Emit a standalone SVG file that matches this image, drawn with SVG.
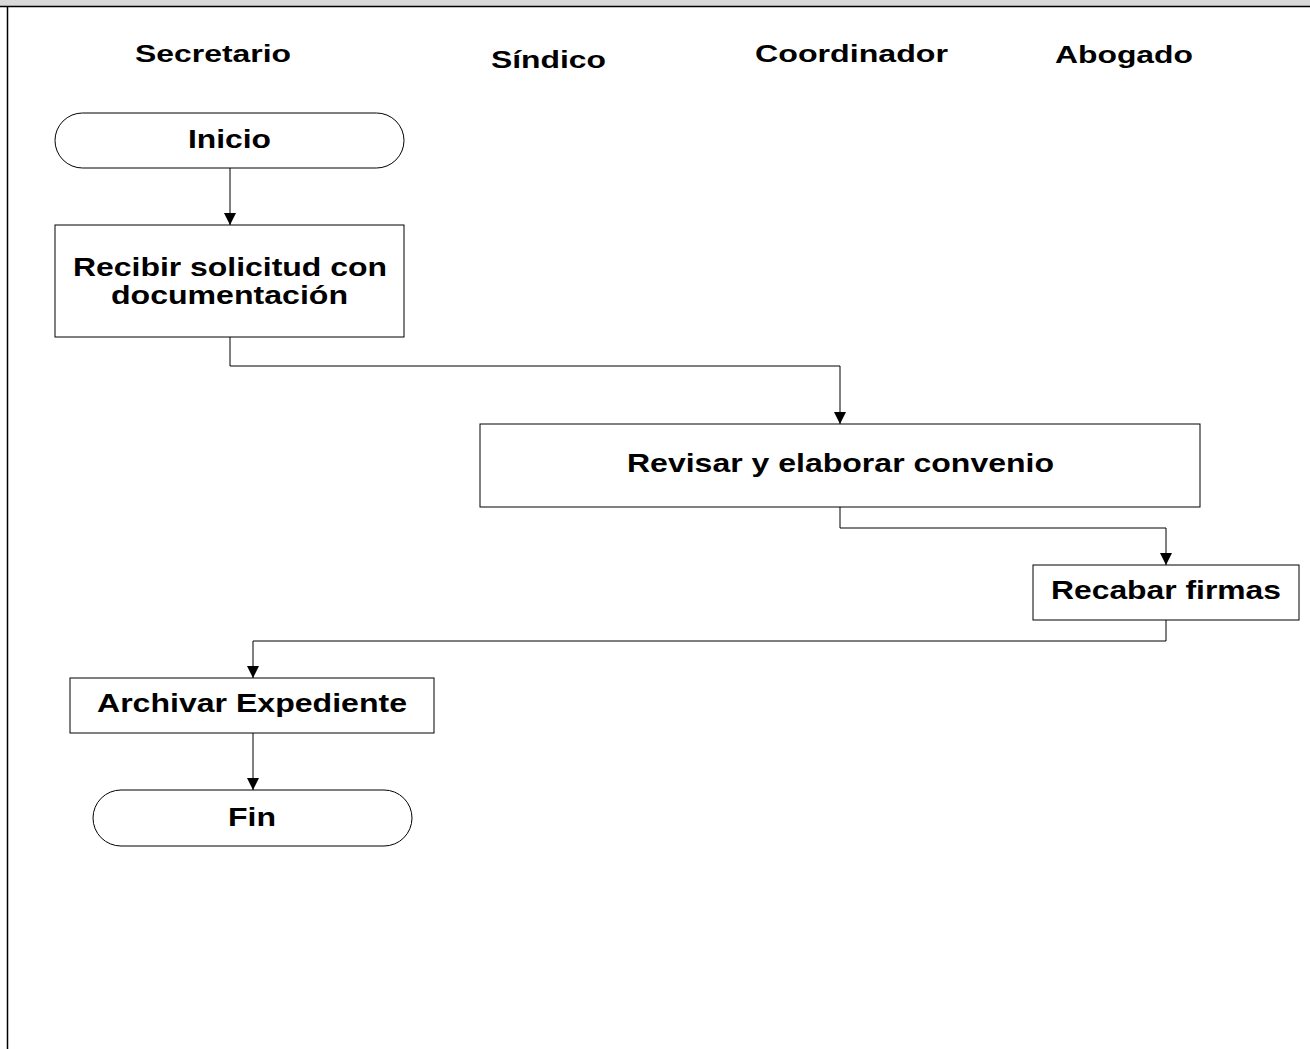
<svg xmlns="http://www.w3.org/2000/svg" width="1310" height="1049" viewBox="0 0 1310 1049">
  <defs>
    <marker id="arrow" viewBox="0 0 12 12" refX="12" refY="6" markerWidth="12" markerHeight="12" markerUnits="userSpaceOnUse" orient="auto">
      <path d="M0,0 L12,6 L0,12 Z" fill="#000"/>
    </marker>
  </defs>
  <style>
    .shape { fill: #fff; stroke: #000; stroke-width: 1; }
    .flow { fill: none; stroke: #000; stroke-width: 1; }
    text { font-family: "Liberation Sans", Arial, sans-serif; font-weight: bold; fill: #000; text-anchor: middle; }
    .lane { font-size: 24px; }
    .lbl { font-size: 25px; }
  </style>

  <!-- page frame -->
  <rect x="0" y="0" width="1310" height="6" fill="#d9d9d9"/>
  <line x1="0" y1="6.5" x2="1310" y2="6.5" stroke="#000" stroke-width="1.5"/>
  <line x1="7.5" y1="6" x2="7.5" y2="1049" stroke="#000" stroke-width="1.5"/>

  <!-- lane headers -->
  <g id="lanes">
    <text class="lane" x="213" y="62" textLength="156" lengthAdjust="spacingAndGlyphs">Secretario</text>
    <text class="lane" x="548.5" y="68" textLength="115" lengthAdjust="spacingAndGlyphs">Síndico</text>
    <text class="lane" x="851.5" y="62" textLength="193" lengthAdjust="spacingAndGlyphs">Coordinador</text>
    <text class="lane" x="1124" y="63" textLength="138" lengthAdjust="spacingAndGlyphs">Abogado</text>
  </g>

  <!-- connectors -->
  <g id="connectors">
    <path class="flow" d="M230,168 V225" marker-end="url(#arrow)"/>
    <path class="flow" d="M230,337 V366 H840 V424" marker-end="url(#arrow)"/>
    <path class="flow" d="M840,507 V528 H1166 V565" marker-end="url(#arrow)"/>
    <path class="flow" d="M1166,620 V641 H253 V678" marker-end="url(#arrow)"/>
    <path class="flow" d="M253,733 V790" marker-end="url(#arrow)"/>
  </g>

  <g id="inicio">
    <rect class="shape" x="55" y="113" width="349" height="55" rx="27.5" ry="27.5"/>
    <text class="lbl" x="229.5" y="148" textLength="83" lengthAdjust="spacingAndGlyphs">Inicio</text>
  </g>

  <g id="recibir">
    <rect class="shape" x="55" y="225" width="349" height="112"/>
    <text class="lbl" x="230" y="276" textLength="314" lengthAdjust="spacingAndGlyphs">Recibir solicitud con</text>
    <text class="lbl" x="229.5" y="304" textLength="237" lengthAdjust="spacingAndGlyphs">documentación</text>
  </g>

  <g id="revisar">
    <rect class="shape" x="480" y="424" width="720" height="83"/>
    <text class="lbl" x="840.5" y="472" textLength="427" lengthAdjust="spacingAndGlyphs">Revisar y elaborar convenio</text>
  </g>

  <g id="recabar">
    <rect class="shape" x="1033" y="565" width="266" height="55"/>
    <text class="lbl" x="1166" y="599" textLength="230" lengthAdjust="spacingAndGlyphs">Recabar firmas</text>
  </g>

  <g id="archivar">
    <rect class="shape" x="70" y="678" width="364" height="55"/>
    <text class="lbl" x="252" y="712" textLength="310" lengthAdjust="spacingAndGlyphs">Archivar Expediente</text>
  </g>

  <g id="fin">
    <rect class="shape" x="93" y="790" width="319" height="56" rx="28" ry="28"/>
    <text class="lbl" x="252" y="826" textLength="48" lengthAdjust="spacingAndGlyphs">Fin</text>
  </g>
</svg>
